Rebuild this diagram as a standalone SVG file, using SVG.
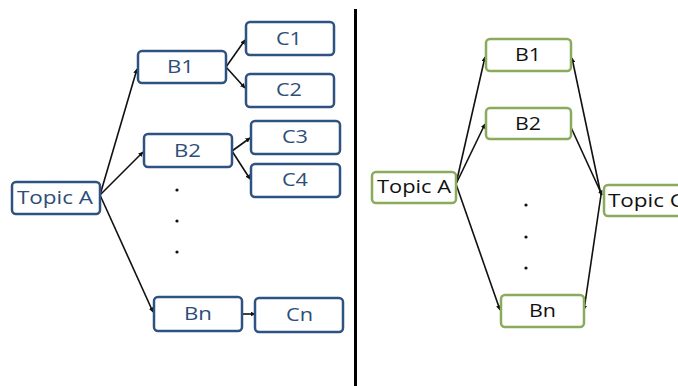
<svg xmlns="http://www.w3.org/2000/svg" width="678" height="386" viewBox="0 0 678 386">
<defs>
<style>
.lb{fill:#fff;stroke:#2f5282;stroke-width:2.5}
.rb{fill:#fff;stroke:#8bab5c;stroke-width:2.5}
.lt{font-family:"Open Sans","Liberation Sans",sans-serif;font-size:18px;fill:#2d4e78;text-anchor:middle}
.rt{font-family:"Open Sans","Liberation Sans",sans-serif;font-size:18px;fill:#111;text-anchor:middle}
.c{stroke:#111;stroke-width:1.6;fill:none;marker-end:url(#ah)}
.dot{fill:#111}
</style>
<marker id="ah" viewBox="0 0 10 10" refX="9" refY="5" markerWidth="5" markerHeight="5" orient="auto" markerUnits="userSpaceOnUse">
<path d="M0,0 L10,5 L0,10 z" fill="#111"/>
</marker>
</defs>
<rect width="678" height="386" fill="#fff"/>
<line x1="355.5" y1="9" x2="355.5" y2="386" stroke="#000" stroke-width="3"/>

<g id="connectors">
<line class="c" x1="100" y1="195" x2="137" y2="69"/>
<line class="c" x1="100" y1="195" x2="143" y2="152"/>
<line class="c" x1="100" y1="195" x2="153" y2="312"/>
<line class="c" x1="226" y1="67" x2="245" y2="40"/>
<line class="c" x1="226" y1="67" x2="245" y2="88"/>
<line class="c" x1="232" y1="151" x2="250" y2="138"/>
<line class="c" x1="232" y1="151" x2="250" y2="179"/>
<line class="c" x1="242" y1="314" x2="255" y2="314"/>
<line class="c" x1="456" y1="184" x2="485" y2="57"/>
<line class="c" x1="456" y1="184" x2="485" y2="124"/>
<line class="c" x1="456" y1="184" x2="500" y2="310"/>
<line class="c" x1="601" y1="195" x2="572" y2="58"/>
<line class="c" x1="569" y1="123" x2="602" y2="195"/>
<line class="c" x1="601" y1="195" x2="584" y2="310"/>
</g>

<g id="l-topicA"><rect class="lb" x="12" y="182" width="88" height="32" rx="4"/><text class="lt" x="55" y="204" textLength="76" lengthAdjust="spacingAndGlyphs">Topic A</text></g>
<g id="l-B1"><rect class="lb" x="138" y="51" width="88" height="32" rx="4"/><text class="lt" x="180.5" y="73" textLength="27" lengthAdjust="spacingAndGlyphs">B1</text></g>
<g id="l-C1"><rect class="lb" x="246" y="22" width="88" height="33" rx="4"/><text class="lt" x="289" y="45" textLength="26" lengthAdjust="spacingAndGlyphs">C1</text></g>
<g id="l-C2"><rect class="lb" x="246" y="74" width="88" height="33" rx="4"/><text class="lt" x="289" y="96" textLength="26" lengthAdjust="spacingAndGlyphs">C2</text></g>
<g id="l-B2"><rect class="lb" x="144" y="134" width="88" height="33" rx="4"/><text class="lt" x="187.5" y="157" textLength="27" lengthAdjust="spacingAndGlyphs">B2</text></g>
<g id="l-C3"><rect class="lb" x="251" y="121" width="89" height="33" rx="4"/><text class="lt" x="295" y="143" textLength="26" lengthAdjust="spacingAndGlyphs">C3</text></g>
<g id="l-C4"><rect class="lb" x="251" y="164" width="89" height="33" rx="4"/><text class="lt" x="295" y="186" textLength="26" lengthAdjust="spacingAndGlyphs">C4</text></g>
<g id="l-Bn"><rect class="lb" x="154" y="297" width="88" height="34" rx="4"/><text class="lt" x="198" y="320" textLength="28" lengthAdjust="spacingAndGlyphs">Bn</text></g>
<g id="l-Cn"><rect class="lb" x="255" y="298" width="88" height="34" rx="4"/><text class="lt" x="299.5" y="321" textLength="27" lengthAdjust="spacingAndGlyphs">Cn</text></g>
<g id="l-dots"><circle class="dot" cx="177" cy="190" r="1.6"/><circle class="dot" cx="177" cy="221" r="1.6"/><circle class="dot" cx="177" cy="252" r="1.6"/></g>

<g id="r-topicA"><rect class="rb" x="372" y="172" width="84" height="31" rx="4"/><text class="rt" x="414" y="193" textLength="74" lengthAdjust="spacingAndGlyphs">Topic A</text></g>
<g id="r-B1"><rect class="rb" x="486" y="39" width="85" height="32" rx="4"/><text class="rt" x="528" y="61" textLength="26" lengthAdjust="spacingAndGlyphs">B1</text></g>
<g id="r-B2"><rect class="rb" x="486" y="108" width="85" height="31" rx="4"/><text class="rt" x="528" y="130" textLength="26" lengthAdjust="spacingAndGlyphs">B2</text></g>
<g id="r-Bn"><rect class="rb" x="501" y="295" width="83" height="32" rx="4"/><text class="rt" x="542.5" y="317" textLength="27" lengthAdjust="spacingAndGlyphs">Bn</text></g>
<g id="r-topicC"><rect class="rb" x="604" y="185" width="90" height="31" rx="4"/><text class="rt" x="608" y="207" style="text-anchor:start" textLength="76" lengthAdjust="spacingAndGlyphs">Topic C</text></g>
<g id="r-dots"><circle class="dot" cx="526" cy="205" r="1.6"/><circle class="dot" cx="526" cy="237" r="1.6"/><circle class="dot" cx="526" cy="268" r="1.6"/></g>
</svg>
